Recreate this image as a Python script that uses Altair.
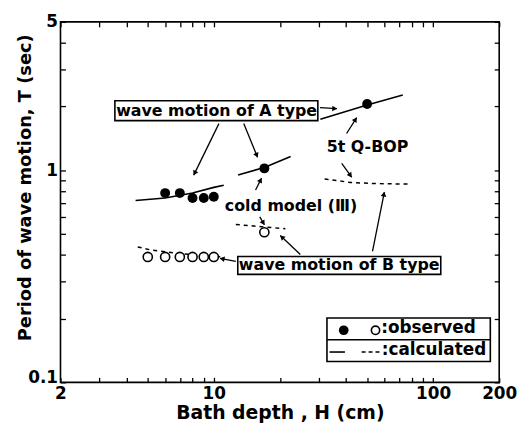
import math
import altair as alt
import pandas as pd

# ---------------- data ----------------
# observed, wave motion of A type (filled circles)
obs_A_H = [6, 7, 8, 9, 10, 17, 50]
obs_A_T = [0.78, 0.78, 0.74, 0.74, 0.75, 1.02, 2.05]
# observed, wave motion of B type (open circles)
obs_B_H = [5, 6, 7, 8, 9, 10, 17]
obs_B_T = [0.39, 0.39, 0.39, 0.39, 0.39, 0.39, 0.51]

# calculated, A type (solid lines)
calc_A_cold1_H = [4.4, 6, 8, 10, 11.1]
calc_A_cold1_T = [0.72, 0.74, 0.78, 0.83, 0.85]
calc_A_cold3_H = [12.9, 17, 22.4]
calc_A_cold3_T = [0.95, 1.03, 1.16]
calc_A_bop_H = [30.6, 50, 72.7]
calc_A_bop_T = [1.74, 2.03, 2.26]

# calculated, B type (dashed lines)
calc_B_cold1_H = [4.5, 5.2, 7, 9, 11]
calc_B_cold1_T = [0.435, 0.42, 0.405, 0.395, 0.39]
calc_B_cold3_H = [12.6, 17, 21.2]
calc_B_cold3_T = [0.555, 0.54, 0.53]
calc_B_bop_H = [32, 42, 55, 77]
calc_B_bop_T = [0.91, 0.875, 0.865, 0.86]

# axis ticks
x_ticks = [2, 3, 4, 5, 6, 7, 8, 9, 10, 20, 30, 40, 50, 60, 70, 80, 90, 100, 200]
x_labels = [2, 10, 100, 200]
y_ticks = [0.1, 0.2, 0.3, 0.4, 0.5, 0.6, 0.7, 0.8, 0.9, 1, 2, 3, 4, 5]
y_labels = [0.1, 1, 5]

# annotation texts (H, T anchor in data units)
box_texts = ["wave motion of A type", "wave motion of B type"]
box_text_H = [10.3, 37.3]
box_text_T = [1.905, 0.356]
box_H1 = [3.54, 12.86]
box_H2 = [29.8, 108.3]
box_T1 = [1.712, 0.323]
box_T2 = [2.124, 0.392]

center_texts = ["5t Q-BOP"]
center_text_H = [50.2]
center_text_T = [1.28]
left_texts = ["cold model (Ⅲ)"]
left_text_H = [11.23]
left_text_T = [0.679]

# arrows: tail -> head
arrow_H1 = [10.55, 13.69, 30.5, 40.3, 38.3, 15.5, 16.2, 12.6, 24.8, 52.9]
arrow_T1 = [1.658, 1.658, 1.97, 1.489, 1.078, 0.806, 0.603, 0.372, 0.4006, 0.414]
arrow_H2 = [8.1, 15.83, 36.4, 44.8, 42.5, 16.5, 17.0, 10.67, 20.1, 59.9]
arrow_T2 = [0.948, 1.150, 1.949, 1.769, 0.927, 0.917, 0.553, 0.384, 0.492, 0.789]

# legend
legend_box_H = [32.8, 182.2]
legend_box_T = [0.1254, 0.2012]
legend_div_T = [0.1588]
legend_dot_H = [39.1]
legend_circ_H = [54.6]
legend_sym_T = [0.176]
legend_solid_H = [33.7, 39.6]
legend_dash_H = [47.2, 58.0]
legend_line_T = [0.139]
legend_texts = [":observed", ":calculated"]
legend_text_H = [58.0, 58.3]
legend_text_T = [0.181, 0.142]

# ---------------- layout ----------------
W, HT = 443, 364
X_DOM = [2, 200]
Y_DOM = [0.1, 5]
PXX = W / (math.log10(X_DOM[1]) - math.log10(X_DOM[0]))
PXY = HT / (math.log10(Y_DOM[1]) - math.log10(Y_DOM[0]))
FONT = "DejaVu Sans"

xs = alt.Scale(type="log", domain=X_DOM, nice=False)
ys = alt.Scale(type="log", domain=Y_DOM, nice=False)


def X(f, axis=None):
    return alt.X(f, type="quantitative", scale=xs, axis=axis)


def Y(f, axis=None):
    return alt.Y(f, type="quantitative", scale=ys, axis=axis)


def lines(series):
    rows = []
    for name, hs, ts in series:
        for h, t in zip(hs, ts):
            rows.append({"s": name, "H": h, "T": t})
    return pd.DataFrame(rows)


solid_df = lines([("a1", calc_A_cold1_H, calc_A_cold1_T),
                  ("a3", calc_A_cold3_H, calc_A_cold3_T),
                  ("ab", calc_A_bop_H, calc_A_bop_T)])
dash_df = lines([("b1", calc_B_cold1_H, calc_B_cold1_T),
                 ("b3", calc_B_cold3_H, calc_B_cold3_T),
                 ("bb", calc_B_bop_H, calc_B_bop_T)])

lab_x = "indexof(%s, datum.value) >= 0 ? format(datum.value, '~g') : ''" % x_labels
lab_y = "indexof(%s, datum.value) >= 0 ? format(datum.value, '~g') : ''" % y_labels

common_axis = dict(grid=False, domain=False, tickSize=5, offset=-5, tickColor="black",
                   tickWidth=1.3, labelFont=FONT, labelFontSize=17, labelFontWeight="bold",
                   labelColor="black", labelOverlap=False, labelFlush=False, labelBound=False,
                   titleFont=FONT, titleFontWeight="bold", titleColor="black")

x_axis = alt.Axis(values=x_ticks, labelExpr=lab_x, labelPadding=3, orient="bottom",
                  title="Bath depth , H (cm)", titlePadding=2, titleFontSize=19, **common_axis)
y_axis = alt.Axis(values=y_ticks, labelExpr=lab_y, labelPadding=3, orient="left",
                  labelOffset={"condition": {"test": "datum.value <= 0.1", "value": -5}, "value": 0},
                  title="Period of wave motion, T (sec)", titleAngle=-90, titleFontSize=18,
                  titleX=-35, titleY=167, titleBaseline="alphabetic", titleAlign="center",
                  **common_axis)
mirror = dict(grid=False, domain=False, tickSize=5, offset=-5, tickColor="black",
              tickWidth=1.3, labels=False, title=None)
x_top = alt.Axis(values=x_ticks, orient="top", **mirror)
y_right = alt.Axis(values=y_ticks, orient="right", **mirror)

solid = alt.Chart(solid_df).mark_line(color="black", strokeWidth=1.6).encode(
    x=X("H", x_axis), y=Y("T", y_axis), detail="s:N")
dashed = alt.Chart(dash_df).mark_line(color="black", strokeWidth=1.5, strokeDash=[4, 4]).encode(
    x=X("H", x_top), y=Y("T", y_right), detail="s:N")

filled = alt.Chart(pd.DataFrame({"H": obs_A_H, "T": obs_A_T})).mark_point(
    filled=True, color="black", size=100, opacity=1).encode(x=X("H"), y=Y("T"))
opened = alt.Chart(pd.DataFrame({"H": obs_B_H, "T": obs_B_T})).mark_point(
    filled=False, color="black", fill="white", size=85, strokeWidth=1.6, opacity=1).encode(x=X("H"), y=Y("T"))

# boxes
boxes = alt.Chart(pd.DataFrame({"H1": box_H1, "H2": box_H2, "T1": box_T1, "T2": box_T2})).mark_rect(
    fill="white", stroke="black", strokeWidth=1.6).encode(
    x=X("H1"), x2="H2", y=Y("T1"), y2="T2")
btext = alt.Chart(pd.DataFrame({"t": box_texts, "H": box_text_H, "T": box_text_T})).mark_text(
    font=FONT, fontSize=16, fontWeight="bold", align="center", baseline="middle", color="black").encode(
    x=X("H"), y=Y("T"), text="t")
ctext = alt.Chart(pd.DataFrame({"t": center_texts, "H": center_text_H, "T": center_text_T})).mark_text(
    font=FONT, fontSize=16, fontWeight="bold", align="center", baseline="middle", color="black").encode(
    x=X("H"), y=Y("T"), text="t")
ltext = alt.Chart(pd.DataFrame({"t": left_texts, "H": left_text_H, "T": left_text_T})).mark_text(
    font=FONT, fontSize=16, fontWeight="bold", align="left", baseline="middle", color="black").encode(
    x=X("H"), y=Y("T"), text="t")

# arrows
heads = []
for h1, t1, h2, t2 in zip(arrow_H1, arrow_T1, arrow_H2, arrow_T2):
    sx = (math.log10(h2) - math.log10(h1)) * PXX
    sy = -(math.log10(t2) - math.log10(t1)) * PXY
    n = math.hypot(sx, sy)
    ux, uy = sx / n, sy / n
    ang = math.degrees(math.atan2(sx, -sy)) % 360
    d = 3.0
    hh = 10 ** (math.log10(h2) - d * ux / PXX)
    th = 10 ** (math.log10(t2) + d * uy / PXY)
    heads.append({"H": hh, "T": th, "a": ang})
shafts = alt.Chart(pd.DataFrame({"H1": arrow_H1, "T1": arrow_T1, "H2": arrow_H2, "T2": arrow_T2})).mark_rule(
    color="black", strokeWidth=1.3).encode(x=X("H1"), x2="H2", y=Y("T1"), y2="T2")
tips = alt.Chart(pd.DataFrame(heads)).mark_point(
    shape="triangle", filled=True, color="black", size=32, opacity=1).encode(
    x=X("H"), y=Y("T"), angle=alt.Angle("a:Q", scale=None))

# legend
lbox = alt.Chart(pd.DataFrame({"H1": [legend_box_H[0]], "H2": [legend_box_H[1]],
                               "T1": [legend_box_T[0]], "T2": [legend_box_T[1]]})).mark_rect(
    fill="white", stroke="black", strokeWidth=1.6).encode(x=X("H1"), x2="H2", y=Y("T1"), y2="T2")
ldiv = alt.Chart(pd.DataFrame({"H1": [legend_box_H[0]], "H2": [legend_box_H[1]], "T": legend_div_T})).mark_rule(
    color="black", strokeWidth=1.6).encode(x=X("H1"), x2="H2", y=Y("T"))
ldot = alt.Chart(pd.DataFrame({"H": legend_dot_H, "T": legend_sym_T})).mark_point(
    filled=True, color="black", size=95, opacity=1).encode(x=X("H"), y=Y("T"))
lcirc = alt.Chart(pd.DataFrame({"H": legend_circ_H, "T": legend_sym_T})).mark_point(
    filled=False, color="black", size=70, strokeWidth=1.6, opacity=1).encode(x=X("H"), y=Y("T"))
lsolid = alt.Chart(pd.DataFrame({"H1": [legend_solid_H[0]], "H2": [legend_solid_H[1]], "T": legend_line_T})).mark_rule(
    color="black", strokeWidth=1.6).encode(x=X("H1"), x2="H2", y=Y("T"))
ldash = alt.Chart(pd.DataFrame({"H1": [legend_dash_H[0]], "H2": [legend_dash_H[1]], "T": legend_line_T})).mark_rule(
    color="black", strokeWidth=1.5, strokeDash=[4, 3]).encode(x=X("H1"), x2="H2", y=Y("T"))
ltexts = alt.Chart(pd.DataFrame({"t": legend_texts, "H": legend_text_H, "T": legend_text_T})).mark_text(
    font=FONT, fontSize=17, fontWeight="bold", align="left", baseline="middle", color="black").encode(
    x=X("H"), y=Y("T"), text="t")

chart = alt.layer(
    solid, dashed, boxes, btext, ctext, ltext, shafts, tips, filled, opened,
    lbox, ldiv, ldot, lcirc, lsolid, ldash, ltexts
).resolve_axis(x="independent", y="independent").properties(
    width=W, height=HT,
    autosize=alt.AutoSizeParams(type="none"),
    padding={"left": 53, "top": 12, "right": 20, "bottom": 40},
    background="white",
).configure_view(stroke="black", strokeWidth=1.6)

chart.save("out.html", embed_options={"renderer": "svg", "actions": False})
